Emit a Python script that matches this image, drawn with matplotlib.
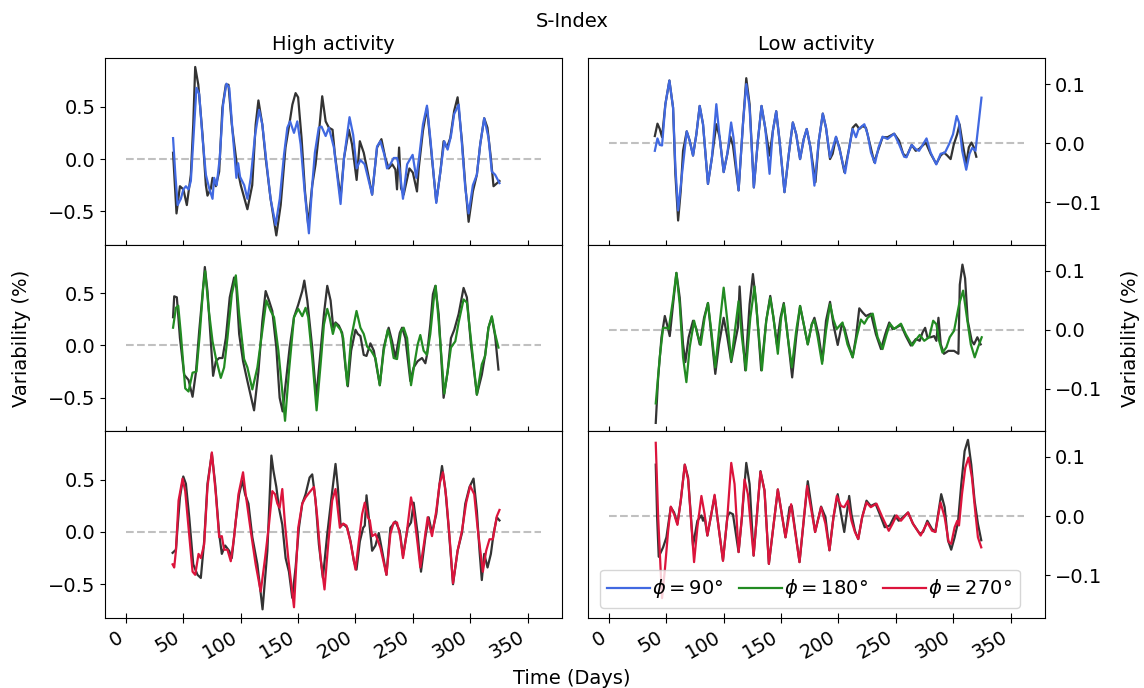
import matplotlib
matplotlib.use('Agg')
import matplotlib.pyplot as plt
from matplotlib.ticker import MultipleLocator

# ---- high activity, phi = 90 ----
hi90_base_t = [41, 44, 47, 50, 53, 56.5, 58.6, 60.3, 63, 66.7, 69.6, 71, 74, 75.4, 78.3, 81.2, 84, 87, 89.3, 92.2,
               97, 100, 105.8, 110, 113, 115.4, 118.8, 121.7, 126, 131, 134.8, 139, 142.6, 145, 147.8, 150, 153,
               156, 158.8, 162.3, 165.2, 168, 171, 174, 176.8, 180, 182, 187, 190, 194.2, 197, 201, 203.8, 207.2,
               210, 214.5, 218.8, 222.6, 226, 229, 232, 234.8, 236.2, 238, 239.7, 242, 247, 250, 253.6, 255.1,
               258.8, 262.3, 265.2, 270.4, 274, 276.8, 279.7, 282.6, 286, 289, 292.8, 295.7, 298.6, 302.3, 305.8,
               308.7, 312.2, 315, 318, 320.3, 325.5]
hi90_base_v = [0.06, -0.52, -0.26, -0.29, -0.44, -0.15, 0.33, 0.88, 0.71, 0.23, -0.25, -0.35, -0.28, -0.18, -0.26,
               -0.12, 0.49, 0.71, 0.71, 0.33, -0.09, -0.25, -0.48, -0.25, 0.33, 0.56, 0.33, 0.01, -0.38, -0.73,
               -0.44, 0.11, 0.35, 0.52, 0.63, 0.59, 0.20, -0.31, -0.63, -0.25, -0.05, 0.23, 0.60, 0.36, 0.30, 0.28,
               0.05, -0.37, 0.01, 0.28, 0.14, -0.20, 0.17, 0.06, -0.09, -0.34, 0.11, 0.19, 0.01, -0.09, -0.05,
               -0.10, -0.29, 0.11, -0.28, -0.34, -0.09, -0.13, -0.31, -0.09, 0.27, 0.49, 0.17, -0.41, -0.12, 0.17,
               0.11, 0.20, 0.46, 0.59, 0.17, -0.25, -0.60, -0.31, -0.15, 0.14, 0.39, 0.30, 0.01, -0.26, -0.21]
hi90_t = [41, 43, 45, 47.8, 50, 52.2, 54.5, 56.5, 58.6, 61.4, 63.8, 66.7, 69.6, 72.5, 75.4, 76.8, 79, 81.7, 84.6,
          87.5, 90, 92.8, 96.2, 97.7, 99.4, 103, 105.8, 108.7, 112.5, 116, 118.8, 122.6, 126, 130.4, 134, 137.7,
          140.6, 143, 146.4, 149.3, 152.2, 155.7, 159.4, 162.3, 164.6, 168, 170.4, 174, 176.8, 181.2, 187, 190,
          194.8, 198, 201, 204.3, 208, 210.7, 214.5, 218.8, 221.7, 225.2, 227.5, 230.4, 233.3, 236.2, 238.3,
          241.4, 245, 249.8, 253, 255.4, 258.8, 262.3, 265.2, 270.4, 274, 277.4, 280.3, 283.2, 286, 290, 292.8,
          295.7, 298.6, 302.3, 305.8, 308.7, 312.2, 316, 318.8, 321.7, 325.5]
hi90_v = [0.20, -0.15, -0.44, -0.38, -0.29, -0.26, -0.29, -0.21, 0.17, 0.68, 0.62, 0.20, -0.15, -0.28, -0.38, -0.18,
          -0.25, 0.01, 0.52, 0.72, 0.68, 0.27, -0.18, -0.04, -0.17, -0.25, -0.38, -0.18, 0.23, 0.47, 0.33, -0.05,
          -0.38, -0.63, -0.38, 0.04, 0.30, 0.36, 0.25, 0.36, 0.14, -0.31, -0.71, -0.25, 0.06, 0.30, 0.31, 0.22,
          0.30, 0.11, -0.43, 0.01, 0.40, 0.23, -0.09, -0.01, -0.05, -0.17, -0.34, 0.12, 0.17, 0.04, -0.09, -0.05,
          0.01, 0.01, -0.09, -0.38, -0.05, 0.04, -0.18, 0.01, 0.33, 0.51, 0.20, -0.42, -0.12, 0.17, 0.09, 0.22,
          0.43, 0.52, 0.14, -0.28, -0.52, -0.25, -0.15, 0.14, 0.39, 0.20, -0.12, -0.15, -0.23]

# ---- low activity, phi = 90 ----
lo90_base_t = [40, 42.3, 44.3, 46.3, 49.2, 52.7, 55.9, 57.9, 60.3, 62.6, 64.6, 67.8, 70.4, 73.3, 76.2, 79.1, 82,
               86.3, 89.8, 93.6, 96.5, 100, 103.2, 105.8, 108.1, 113, 116.8, 119.7, 122.6, 126.3, 129.8, 133, 136.2,
               140, 142.9, 145.8, 148.7, 153, 156.8, 160.3, 163.2, 166.6, 169.8, 172.4, 175.6, 180, 182.9, 186.4,
               189.2, 192.7, 195, 197.9, 200.8, 205.2, 209.5, 212.4, 215.3, 218.2, 221.1, 224, 227.5, 231.2, 235,
               238.5, 242.8, 248.6, 252.9, 256.4, 259.3, 263.9, 267.4, 270.3, 276.1, 280.4, 285.3, 289.1, 292, 294.9,
               297.8, 300.6, 303.5, 305.6, 307.9, 311.4, 313.7, 316, 318, 320.2]
lo90_base_v = [0.012, 0.033, 0.024, 0.010, 0.066, 0.106, 0.060, -0.052, -0.131, -0.080, -0.013, 0.020, 0.004,
               -0.021, 0.015, 0.063, 0.032, -0.069, -0.024, 0.032, 0.010, -0.049, -0.018, 0.011, -0.004, -0.080,
               0.032, 0.110, 0.066, -0.075, 0.004, 0.063, 0.026, -0.021, 0.021, 0.054, 0.004, -0.083, -0.018, 0.035,
               0.015, -0.027, 0.007, 0.024, -0.007, -0.066, 0.004, 0.050, 0.026, -0.027, -0.018, 0.010, -0.007,
               -0.049, -0.007, 0.026, 0.032, 0.024, 0.029, 0.026, -0.002, -0.032, -0.010, 0.010, 0.010, 0.016,
               0.004, -0.018, -0.023, -0.003, -0.013, -0.010, 0.001, -0.018, -0.035, -0.021, -0.016, -0.021, -0.027,
               -0.002, 0.015, 0.032, 0.004, -0.035, -0.007, 0.001, -0.007, -0.023]
lo90_t = [40, 42.3, 44.3, 46.3, 49.2, 52.7, 55.9, 57.9, 60.3, 63.7, 67.8, 70.4, 73.3, 76.2, 79.1, 82, 86.3, 89.8,
          93.6, 96.5, 100, 103.2, 106.5, 108.5, 113, 116.8, 119.7, 122.6, 126.3, 129.8, 133, 136.2, 140, 142.9,
          145.8, 148.7, 153, 156.8, 160.3, 163.2, 166.6, 169.8, 172.4, 175.6, 179.1, 182.9, 186.4, 189.2, 192.7,
          197.9, 201.3, 205.8, 209.5, 212.4, 215.3, 217.6, 222.6, 225.5, 228.4, 231.9, 235, 238.5, 242.8, 248.6,
          252.9, 257.3, 259.3, 263.9, 267.4, 270.3, 276.8, 280.4, 285.3, 289.1, 292.9, 296.4, 299.9, 303.1,
          305.1, 307.9, 311.4, 314.3, 316.6, 319.5, 324.7]
lo90_v = [-0.013, 0.008, -0.003, -0.004, 0.066, 0.106, 0.060, -0.040, -0.114, -0.052, 0.020, 0.004, -0.021, 0.015,
          0.063, 0.032, -0.069, -0.024, 0.066, 0.010, -0.049, -0.018, 0.035, 0.010, -0.080, 0.032, 0.100, 0.060,
          -0.075, 0.004, 0.063, 0.026, -0.052, 0.021, 0.054, 0.004, -0.083, -0.018, 0.035, 0.015, -0.027, 0.007,
          0.024, -0.007, -0.072, 0.004, 0.050, 0.026, -0.024, 0.011, -0.013, -0.051, -0.007, 0.024, 0.010, 0.024,
          0.032, 0.015, -0.016, -0.034, -0.007, 0.011, 0.007, 0.016, -0.002, -0.023, -0.024, -0.003, -0.010,
          -0.013, 0.008, -0.016, -0.036, -0.018, -0.016, -0.002, 0.015, 0.046, 0.035, -0.013, -0.045, -0.018,
          -0.008, -0.013, 0.077]

# ---- high activity, phi = 180 ----
hi180_base_t = [41, 42, 44.3, 47, 50.7, 54.5, 58, 60.9, 63.8, 66.7, 68.7, 71, 73.9, 75.9, 78.3, 81.2, 84.1, 87,
                90.4, 94.2, 96.2, 98.6, 102, 105.8, 111.6, 115.4, 118.8, 121.7, 124.6, 127.5, 131, 133.9, 136.5,
                142.6, 146.4, 150.1, 153.6, 155.4, 158, 162.3, 165.8, 169.6, 172.5, 175.4, 178.3, 180.6, 182.6,
                185.5, 188.4, 191.3, 193.3, 196.2, 200, 202, 204.3, 207.2, 209.6, 213, 216, 221.2, 224.6, 228.9,
                231.9, 234.8, 238.6, 240.6, 243.5, 247.8, 250.7, 254.2, 258, 260.9, 262.3, 265.2, 267.5, 269.6,
                272.5, 276.8, 280.3, 283.2, 286.1, 289.9, 294.2, 297.1, 300.6, 305.8, 310.1, 313, 315.9, 318.8,
                321.7, 324.6]
hi180_base_v = [0.27, 0.47, 0.46, 0.07, -0.28, -0.33, -0.49, -0.26, 0.14, 0.49, 0.75, 0.52, 0.04, -0.29, -0.15,
                -0.12, -0.12, 0.07, 0.46, 0.65, 0.55, 0.11, -0.15, -0.34, -0.62, -0.25, 0.23, 0.52, 0.43, 0.33,
                -0.02, -0.50, -0.63, -0.02, 0.27, 0.39, 0.52, 0.62, 0.43, -0.02, -0.50, -0.05, 0.30, 0.57, 0.43,
                0.17, 0.22, 0.19, 0.12, -0.21, -0.39, -0.05, 0.15, 0.11, 0.09, -0.09, -0.10, 0.02, -0.05, -0.38,
                -0.02, 0.17, 0.04, -0.12, 0.12, 0.17, 0.07, -0.34, -0.21, -0.15, -0.12, -0.17, -0.09, 0.20, 0.49,
                0.57, 0.30, -0.50, -0.25, 0.07, 0.15, 0.30, 0.55, 0.46, 0.01, -0.47, -0.28, -0.09, 0.17, 0.27, 0.09,
                -0.23]
hi180_t = [41, 43.5, 45.5, 47.8, 51.6, 54.5, 58, 61.4, 64.3, 67.2, 69, 71.9, 75.4, 78.3, 82.6, 85.5, 88.4, 92.2,
           95.7, 98.6, 102.9, 105.8, 110.1, 114.5, 118.8, 122.3, 126.1, 129, 132.8, 136.2, 138.6, 142, 146.4,
           150.1, 153.6, 156.5, 158.8, 162.3, 166.1, 169.6, 172.5, 175.4, 177.4, 180.3, 182.6, 187, 189.3, 192.8,
           196.2, 200.9, 204.3, 207.2, 210.1, 213.6, 217.4, 221.2, 224.6, 228.1, 230.4, 233.3, 236.2, 239.7, 242,
           245, 248.4, 251.3, 254.2, 256.5, 259.4, 262.3, 265.2, 268.1, 269.9, 272.5, 277.4, 280.3, 283.2, 287,
           289.9, 294.2, 297.1, 301.4, 305.8, 310.1, 313, 315.9, 318.8, 321.7, 324.6]
hi180_v = [0.17, 0.36, 0.38, 0.11, -0.41, -0.44, -0.26, -0.25, 0.11, 0.55, 0.71, 0.36, 0.04, -0.12, -0.31, -0.21,
           0.07, 0.49, 0.67, 0.30, -0.13, -0.21, -0.42, -0.21, 0.14, 0.43, 0.33, 0.27, -0.05, -0.44, -0.72, -0.25,
           0.27, 0.35, 0.28, 0.36, 0.27, -0.12, -0.62, -0.18, 0.20, 0.35, 0.27, 0.11, 0.21, 0.15, 0.07, -0.38,
           0.07, 0.33, 0.17, 0.11, -0.01, -0.05, -0.12, -0.38, -0.05, 0.15, 0.07, -0.12, -0.13, 0.14, 0.17, 0.07,
           -0.38, -0.18, 0.01, 0.10, -0.05, -0.09, 0.11, 0.43, 0.57, 0.23, -0.46, -0.25, -0.02, 0.04, 0.22, 0.44,
           0.41, -0.02, -0.47, -0.18, -0.10, 0.17, 0.28, 0.11, -0.02]

# ---- low activity, phi = 180 ----
lo180_base_t = [40.8, 42.9, 45.8, 48.7, 51, 53, 55.9, 58.8, 61.7, 64.6, 66.6, 69.5, 73.3, 76.2, 79.1, 82.9, 86.3,
                89.2, 92.7, 95.9, 100, 103.2, 106.6, 109.5, 112.4, 113.9, 115.3, 118.8, 122.6, 125.5, 128.4, 132.7,
                137.1, 140.6, 143.4, 146.4, 149.5, 152.4, 155.9, 159.7, 163.2, 166.6, 169.8, 173.3, 176.8, 179.1,
                182.6, 186, 189.2, 192.7, 195.6, 199.4, 203, 205.2, 208.9, 212.4, 215.3, 218.2, 221.1, 224, 228.4,
                232.7, 237.1, 240.8, 244.3, 247.2, 250.1, 254.5, 258.8, 263.1, 267.5, 270.9, 273.3, 275.6, 277.6,
                280.5, 283.4, 285.4, 287.2, 289.2, 292, 295.9, 300.8, 304.6, 305.8, 308.1, 310.4, 312.7, 316.2,
                318.2, 321.1, 324]
lo180_base_v = [-0.158, -0.081, -0.013, 0.023, 0.006, -0.011, 0.043, 0.096, 0.054, -0.025, -0.055, -0.013, 0.015,
                0.001, -0.025, 0.020, 0.045, -0.008, -0.075, -0.025, 0.020, -0.013, -0.055, -0.025, 0.003, 0.073,
                0.026, -0.069, 0.043, 0.094, 0.043, -0.069, 0.015, 0.057, 0.020, -0.025, 0.020, 0.045, -0.013,
                -0.081, -0.013, 0.040, 0.009, -0.025, 0.009, 0.020, -0.008, -0.053, 0.015, 0.047, 0.009, -0.026,
                0.009, 0.003, -0.025, -0.047, -0.013, 0.036, 0.029, 0.023, 0.027, -0.008, -0.033, -0.008, 0.012,
                0.001, 0.003, 0.008, -0.011, -0.027, -0.016, -0.019, -0.005, 0.003, -0.013, -0.013, -0.011, -0.019,
                0.020, -0.025, -0.041, -0.036, -0.036, -0.041, 0.076, 0.110, 0.087, 0.015, -0.019, -0.025, -0.013,
                -0.025]
lo180_t = [40.8, 44.3, 47.2, 50.1, 52.1, 55.9, 58.8, 61.7, 64.6, 67.5, 70.4, 74.2, 77.1, 80, 83.4, 86.3, 89.2,
           92.7, 96.5, 100, 103.2, 106.6, 110.1, 113, 115.9, 119.4, 123.2, 126.9, 129.8, 133.3, 137.1, 140.6,
           143.4, 147.2, 150.1, 152.4, 155.9, 159.4, 163.2, 166.6, 169.8, 173.3, 176.8, 179.1, 182, 185.8, 189.2,
           192.7, 195.6, 198.5, 203.6, 207.9, 212.4, 215.9, 219.6, 222.6, 225.5, 229.9, 234.2, 238.5, 242, 244.9,
           248.6, 254.5, 258.8, 264.4, 268.1, 270.9, 274.8, 279.1, 282.6, 285.4, 287.8, 290.7, 294.1, 297, 300.8,
           305.2, 308.7, 311.6, 315.4, 318.8, 321.7, 324.9]
lo180_v = [-0.125, -0.047, 0.003, 0.003, 0.001, 0.051, 0.096, 0.043, -0.047, -0.089, -0.030, 0.015, -0.008, -0.026,
           0.020, 0.045, -0.002, -0.064, 0.009, 0.071, 0.015, -0.053, 0.003, 0.048, -0.013, -0.069, 0.020, 0.073,
           0.009, -0.069, 0.015, 0.054, 0.020, -0.041, 0.020, 0.043, -0.013, -0.064, -0.002, 0.040, 0.009, -0.025,
           0.009, 0.016, -0.013, -0.058, -0.002, 0.043, 0.017, 0.001, 0.012, -0.025, -0.047, -0.013, 0.017, 0.010,
           0.020, 0.027, -0.013, -0.033, -0.008, 0.010, 0.001, 0.010, -0.008, -0.027, -0.016, -0.009, -0.019,
           -0.013, 0.015, 0.009, -0.019, -0.039, -0.030, -0.013, -0.002, 0.043, 0.066, 0.026, -0.025, -0.047,
           -0.030, -0.013]

# ---- high activity, phi = 270 ----
hi270_base_t = [40.6, 43.5, 44.9, 47, 49.9, 52.2, 55.1, 58.6, 62.3, 65.2, 68.1, 71, 74.8, 77.7, 81.2, 83.5, 86.4,
                89.9, 92.2, 95.7, 98.6, 101.4, 103.8, 106.7, 110.1, 114.5, 119, 123.2, 126.7, 128.4, 131, 133.3,
                136.2, 139.1, 142, 144.9, 147.8, 150.7, 153.6, 156.5, 160, 162.3, 165.2, 168.1, 171.6, 175.4, 179.1,
                182.6, 184.6, 187, 189.9, 192.8, 195.7, 198.6, 200.9, 203.8, 206.7, 208.1, 209.6, 211.6, 214.5,
                217.4, 220.3, 223.2, 227, 230.4, 234.8, 238.6, 241.4, 245.5, 248.4, 250.7, 254.2, 257.1, 260.9,
                263.8, 266.7, 270.4, 273.3, 275.4, 278.3, 281.2, 285, 289, 292.8, 295.7, 299.4, 302.9, 305.8, 308.1,
                310.1, 312.2, 315.1, 318, 320.3, 323.2, 325.5]
hi270_base_v = [-0.20, -0.17, 0.04, 0.33, 0.53, 0.46, 0.14, -0.31, -0.41, -0.44, -0.09, 0.46, 0.75, 0.46, -0.02,
                -0.21, -0.13, -0.18, -0.25, 0.11, 0.36, 0.49, 0.36, 0.27, -0.05, -0.31, -0.74, -0.18, 0.73, 0.59,
                0.43, 0.23, 0.07, -0.25, -0.38, -0.63, -0.34, 0.04, 0.27, 0.36, 0.52, 0.55, 0.30, -0.12, -0.44,
                -0.02, 0.33, 0.65, 0.43, 0.07, 0.07, 0.04, -0.09, -0.28, -0.36, -0.09, 0.04, 0.06, 0.35, 0.14, -0.18,
                -0.13, -0.01, -0.18, -0.41, 0.04, 0.10, 0.01, -0.23, 0.04, 0.09, 0.28, -0.02, -0.38, -0.05, 0.14,
                -0.01, 0.17, 0.46, 0.63, 0.41, 0.04, -0.50, -0.18, -0.01, 0.27, 0.43, 0.51, 0.20, -0.18, -0.46,
                -0.21, -0.34, -0.21, -0.02, 0.14, 0.11]
hi270_t = [40.6, 42, 43.5, 45.8, 49.3, 51.6, 54.5, 58, 60.3, 63.2, 65.2, 68.1, 71, 74.8, 78.3, 81.2, 83.5, 85.5,
           88.4, 91.3, 94.2, 98, 102, 104.3, 108.7, 113, 117.4, 121.2, 124.6, 127.5, 129.9, 131.9, 133.9, 136.2,
           138.6, 141.4, 146.4, 150.1, 153.6, 156.5, 160, 163.8, 166.7, 169.6, 173, 176.2, 179.7, 182.6, 186.4,
           189.3, 192.2, 195.7, 200, 202.9, 205.8, 208.1, 210.7, 212.5, 214.5, 217.4, 221.7, 227, 230.4, 233.3,
           236.2, 239.1, 241.4, 244.9, 248.4, 250.7, 254.2, 256.5, 260, 262.9, 266.7, 270.4, 273.3, 276.2, 279.1,
           282, 285, 289, 292.8, 296.5, 300, 303.5, 306.4, 311, 313.9, 316.8, 319.7, 323.2, 325.5]
hi270_v = [-0.31, -0.34, -0.18, 0.30, 0.51, 0.39, 0.04, -0.38, -0.41, -0.21, -0.25, -0.12, 0.43, 0.76, 0.36, -0.05,
           -0.04, -0.17, -0.17, -0.28, -0.05, 0.36, 0.57, 0.36, 0.01, -0.31, -0.57, -0.25, 0.07, 0.39, 0.36, 0.27,
           0.23, 0.41, 0.07, -0.25, -0.72, 0.04, 0.27, 0.33, 0.38, 0.43, 0.14, -0.25, -0.55, -0.12, 0.30, 0.41,
           0.04, 0.08, 0.06, -0.10, -0.36, -0.09, 0.17, 0.28, 0.14, 0.11, -0.04, -0.02, -0.15, -0.41, -0.02, 0.09,
           0.09, -0.05, -0.25, 0.01, 0.33, 0.20, -0.12, -0.34, -0.09, 0.14, -0.04, 0.20, 0.46, 0.57, 0.33, -0.05,
           -0.49, -0.18, 0.01, 0.28, 0.44, 0.36, 0.04, -0.38, -0.18, -0.07, -0.07, 0.15, 0.21]

# ---- low activity, phi = 270 ----
lo270_base_t = [40.8, 42, 43.4, 47.2, 50.1, 53.9, 56.8, 59.7, 62.6, 66.1, 69, 73.3, 77.1, 80.6, 82, 83.4, 85.8,
                89.2, 92.1, 95.6, 99.4, 103.2, 105.2, 108.1, 113, 115.9, 119.7, 122.6, 126.1, 132.1, 135.6, 139.4,
                147.2, 153.9, 157.4, 159.4, 166.1, 173.3, 179.7, 184.9, 188.7, 192.2, 195.7, 199.4, 202.3, 205.1,
                207.2, 209.4, 211.4, 214.4, 217.3, 220.7, 224.5, 228.2, 232.3, 236.1, 240.4, 244.8, 249.1, 252.6,
                256.3, 260.7, 265, 270.9, 273.8, 277.5, 281.6, 284.5, 289.6, 292.6, 295.5, 298.3, 301.3, 304.2,
                307.1, 310, 312.9, 315.8, 318.7, 321.6, 324.5]
lo270_base_v = [0.087, -0.002, -0.069, -0.053, -0.036, 0.015, 0.006, -0.013, 0.026, 0.087, 0.065, -0.050, -0.008,
                0.001, -0.008, -0.002, -0.033, 0.003, 0.034, -0.019, -0.075, -0.002, 0.006, 0.003, -0.061, -0.002,
                0.090, 0.054, -0.067, 0.076, 0.043, -0.081, 0.045, -0.036, 0.015, 0.017, -0.078, 0.059, -0.027,
                0.016, -0.002, -0.058, -0.002, 0.037, 0.003, -0.027, 0.003, 0.034, 0.003, -0.025, -0.039, -0.002,
                0.026, 0.017, 0.021, 0.003, -0.019, -0.016, 0.001, -0.008, -0.002, 0.006, -0.013, -0.030, -0.027,
                -0.008, -0.022, -0.027, 0.037, 0.015, -0.041, -0.057, -0.036, -0.011, 0.054, 0.110, 0.129, 0.087,
                0.026, -0.013, -0.041]
lo270_t = [40.8, 42.9, 45.2, 46.3, 48.7, 51.6, 53.9, 56.8, 59.7, 62.6, 66.1, 69, 74.2, 77.1, 80.6, 83.4, 85.8,
           89.2, 92.1, 95.6, 99.4, 103.2, 106.6, 109.5, 113, 115.9, 118.2, 121.1, 126.1, 132.1, 135.6, 139.4,
           147.2, 153.9, 158.8, 166.1, 172.7, 179.7, 184.9, 188.7, 192.2, 195.7, 198.6, 202.3, 205.1, 208.3,
           211.4, 214.4, 217.3, 220.7, 224.5, 228.2, 233.2, 238.3, 243.9, 247.2, 250.7, 254.5, 260.7, 265, 271.7,
           277.5, 281.6, 284.5, 289, 292.6, 296.1, 298.3, 301.3, 303.6, 305.1, 307.7, 310.6, 313.4, 316.4, 319.2,
           321.6, 324.5]
lo270_v = [0.124, -0.002, -0.097, -0.139, -0.092, -0.025, 0.016, 0.003, -0.015, 0.026, 0.087, 0.062, -0.078,
           -0.019, 0.034, 0.003, -0.033, 0.003, 0.036, -0.019, -0.076, -0.002, 0.090, 0.054, -0.061, -0.002, 0.062,
           0.037, -0.067, 0.075, 0.043, -0.081, 0.045, -0.036, 0.020, -0.078, 0.051, -0.027, 0.015, -0.013, -0.058,
           -0.002, 0.034, 0.017, 0.015, 0.026, -0.008, -0.027, -0.039, -0.002, 0.023, 0.015, 0.021, -0.002, -0.025,
           -0.013, 0.001, -0.008, 0.006, -0.013, -0.033, -0.011, -0.025, -0.027, 0.023, -0.002, -0.044, -0.047,
           -0.019, -0.008, -0.016, 0.037, 0.082, 0.099, 0.065, 0.009, -0.036, -0.053]

colors = ['royalblue', 'forestgreen', 'crimson']
labels = [r'$\phi = 90\degree$', r'$\phi = 180\degree$', r'$\phi = 270\degree$']
fs = 14

fig, axes = plt.subplots(3, 2, figsize=(11.44, 6.88), dpi=100, sharex=True, sharey='col',
                         gridspec_kw=dict(hspace=0, wspace=0.057))
fig.subplots_adjust(left=0.092, right=0.9135, top=0.915, bottom=0.102)

high = [(hi90_base_t, hi90_base_v, hi90_t, hi90_v),
        (hi180_base_t, hi180_base_v, hi180_t, hi180_v),
        (hi270_base_t, hi270_base_v, hi270_t, hi270_v)]
low = [(lo90_base_t, lo90_base_v, lo90_t, lo90_v),
       (lo180_base_t, lo180_base_v, lo180_t, lo180_v),
       (lo270_base_t, lo270_base_v, lo270_t, lo270_v)]

handles = []
for i in range(3):
    for j, data in enumerate([high[i], low[i]]):
        ax = axes[i, j]
        bt, bv, t, v = data
        ax.plot([0, 362], [0, 0], ls='--', color='#c0c0c0', lw=1.5)
        ax.plot(bt, bv, color='0.2', lw=1.6)
        ln, = ax.plot(t, v, color=colors[i], lw=1.6, label=labels[i])
        if j == 1:
            ax.yaxis.tick_right()
            ax.yaxis.set_major_locator(MultipleLocator(0.1))
        else:
            ax.yaxis.set_major_locator(MultipleLocator(0.5))
        ax.tick_params(labelsize=fs)
        ax.tick_params(axis='x', direction='inout', length=7)
    handles.append(ln)

axes[0, 0].xaxis.set_major_locator(MultipleLocator(50))
for ax in axes[2]:
    for lbl in ax.get_xticklabels():
        lbl.set_rotation(30)
        lbl.set_ha('right')

axes[0, 0].set_title('High activity', fontsize=fs)
axes[0, 1].set_title('Low activity', fontsize=fs)
fig.suptitle('S-Index', fontsize=fs, y=0.983)
axes[1, 0].set_ylabel('Variability (%)', fontsize=fs, labelpad=12)
axes[1, 1].yaxis.set_label_position('right')
axes[1, 1].set_ylabel('Variability (%)', fontsize=fs, labelpad=14)
fig.supxlabel('Time (Days)', fontsize=fs, y=0.0)

axes[2, 1].legend(handles, labels, loc='lower center', ncol=3, fontsize=fs,
                  handletextpad=0.1, columnspacing=0.8, handlelength=2.2, bbox_to_anchor=(0.485, 0))

fig.savefig('out.png', dpi=100)
